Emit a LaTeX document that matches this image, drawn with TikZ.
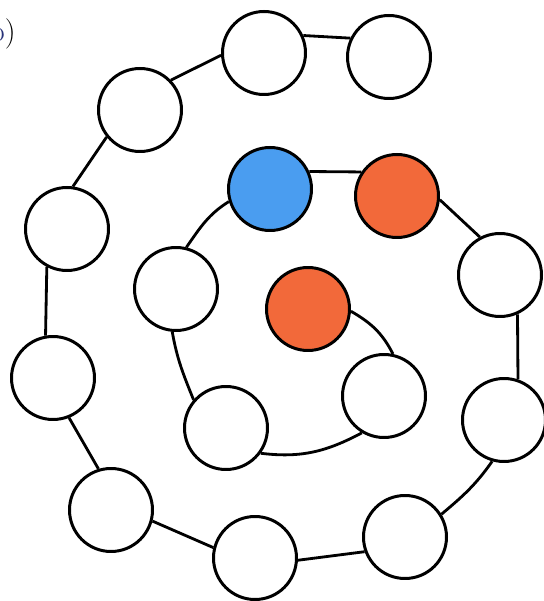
\documentclass[tikz,border=0pt]{standalone}
\usepackage{tikz}
\usetikzlibrary{positioning}
\definecolor{beadblue}{RGB}{74,157,240}
\definecolor{beadred}{RGB}{242,105,58}
\definecolor{tagblue}{RGB}{40,50,120}

\begin{document}
\begin{tikzpicture}[
  x=0.2mm, y=0.2mm,
  bead/.style={draw, circle, line width=1.7pt, minimum size=16.6mm,
    inner sep=0pt, fill=white},
  link/.style={line width=1.6pt}
]
  \useasboundingbox (0,0) rectangle (544,601);
  % Label
  \node[anchor=base east, font=\LARGE, inner sep=0pt] (tag) at (16,559)
    {\textcolor{tagblue}{b})};
  % Beads, inner turn
  \node[bead, fill=beadred] (core) at (308,292) {};
  \node[bead] (in1) at (384,205) {};
  \node[bead] (in2) at (226,173) {};
  \node[bead] (in3) at (176,312) {};
  \node[bead, fill=beadblue] (blue) at (270,412) {};
  \node[bead, fill=beadred] (red) at (397,405) {};
  % Beads, outer turn
  \node[bead] (out1) at (500,326) {};
  \node[bead] (out2) at (504,181) {};
  \node[bead] (out3) at (405,64) {};
  \node[bead] (out4) at (255,43) {};
  \node[bead] (out5) at (111,91) {};
  \node[bead] (out6) at (53,223) {};
  \node[bead] (out7) at (67,372) {};
  \node[bead] (out8) at (140,491) {};
  \node[bead] (out9) at (264,548) {};
  \node[bead] (out10) at (389,544) {};
  % Links
  \draw[link] (core.-3) to[out=-30, in=117] (in1.78);
  \draw[link] (in1.239) to[out=208, in=-7] (in2.-36);
  \draw[link] (in2.139) to[out=112, in=-80] (in3.265);
  \draw[link] (in3.76) to[out=55, in=212] (blue.197);
  \draw[link] (blue.24) -- (red.146);
  \draw[link] (red.-5) -- (out1.118);
  \draw[link] (out1.-66) -- (out2.71);
  \draw[link] (out2.-106) to[out=-125, in=40] (out3.32);
  \draw[link] (out3.200) -- (out4.-3);
  \draw[link] (out4.166) -- (out5.-15);
  \draw[link] (out5.107) -- (out6.-68);
  \draw[link] (out6.100) -- (out7.-118);
  \draw[link] (out7.82) -- (out8.219);
  \draw[link] (out8.44) -- (out9.183);
  \draw[link] (out9.24) -- (out10.154);
\end{tikzpicture}
\end{document}
